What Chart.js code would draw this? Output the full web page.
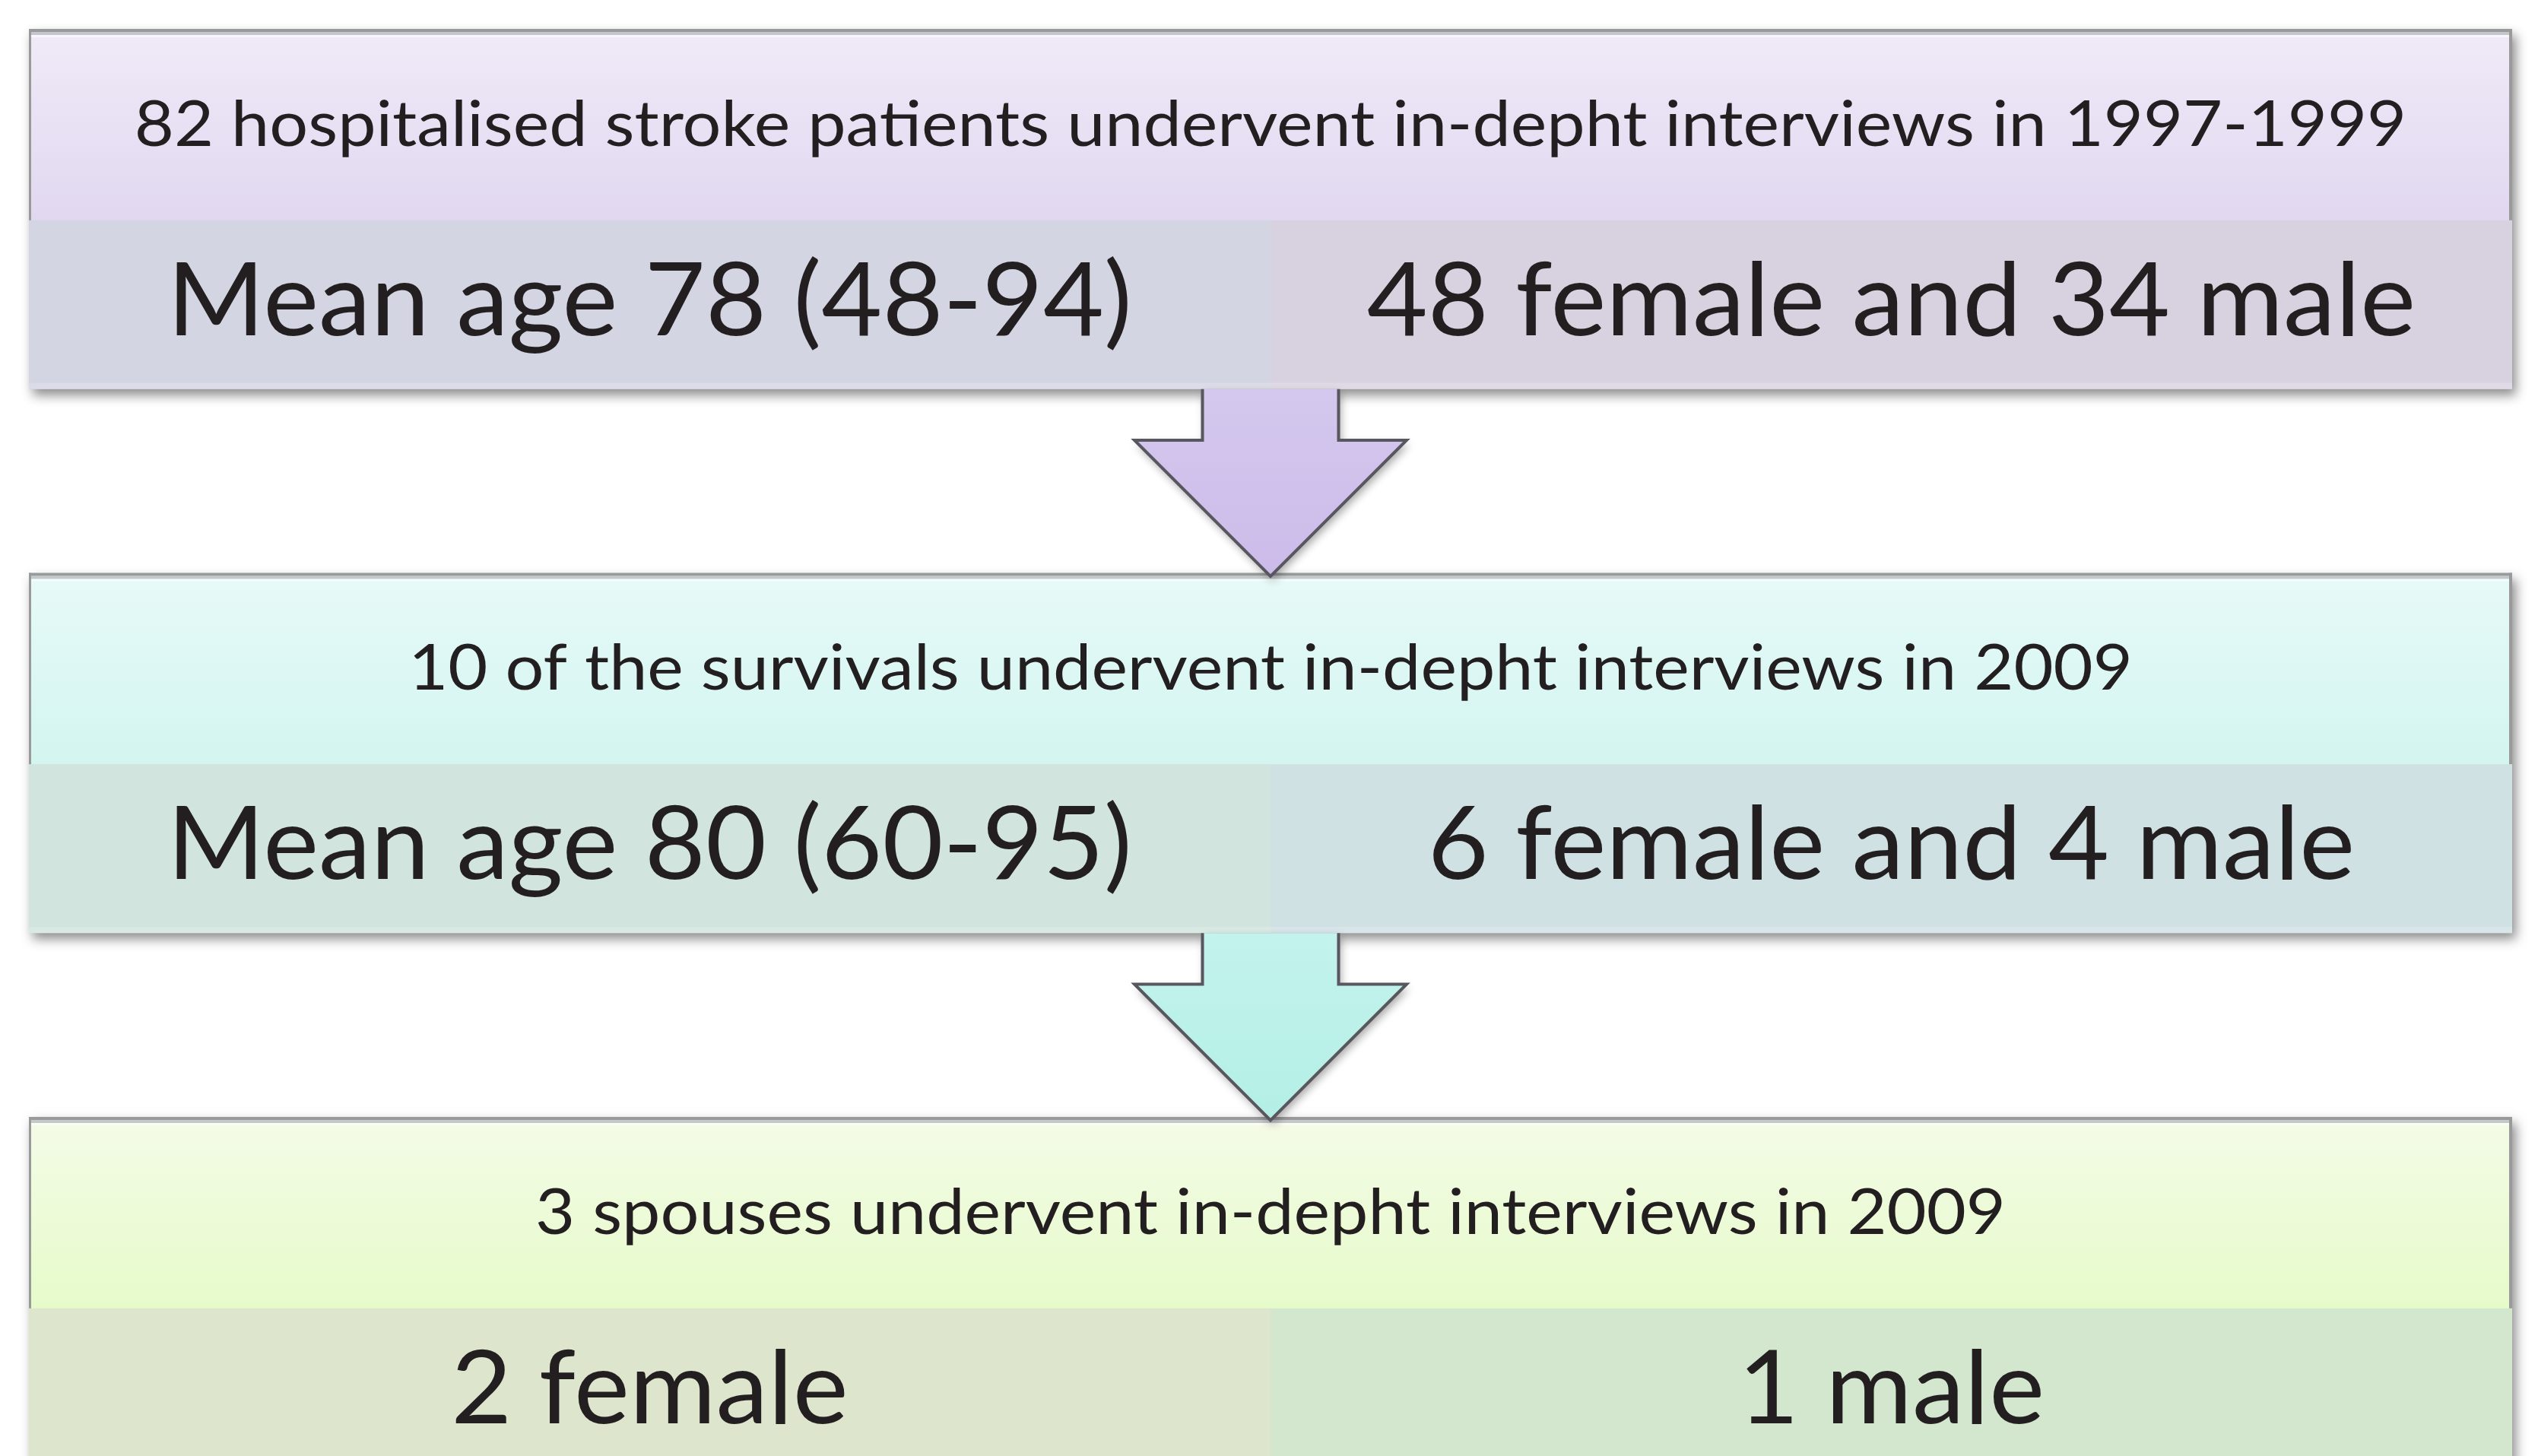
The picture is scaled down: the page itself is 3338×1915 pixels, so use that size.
<!DOCTYPE html>
<html>
<head>
<meta charset="utf-8">
<title>Stroke patients interview flow</title>
<script src="https://cdn.jsdelivr.net/npm/chart.js@4.4.0/dist/chart.umd.min.js"></script>
<style>
  html, body { margin: 0; padding: 0; background: #ffffff; }
  #wrap { width: 3338px; height: 1915px; }
</style>
</head>
<body>
<div id="wrap"><canvas id="flow"></canvas></div>
<script>
// stages of the study, top to bottom
var stages = [0, 1, 2];
var headerTexts = [
    "82 hospitalised stroke patients undervent in-depht interviews in 1997-1999",
    "10 of the survivals undervent in-depht interviews in 2009",
    "3 spouses undervent in-depht interviews in 2009"
];
var leftTexts = ["Mean age 78 (48-94)", "Mean age 80 (60-95)", "2 female"];
var rightTexts = ["48 female and 34 male", "6 female and 4 male", "1 male"];

// colours per stage
var headTop = ["#f0eaf8", "#e7faf8", "#f4fbe7"];
var headBottom = ["#e1d8f0", "#d3f5f0", "#e6fbca"];
var leftFill = ["#d3d5e2", "#d1e4de", "#dde6cd"];
var rightFill = ["#d8d2e0", "#d0e1e4", "#d3e7cf"];
var arrowTop = ["#d4c8ee", "#c3f3ec"];
var arrowBottom = ["#ccbbe9", "#b3efe5"];

// layout in axis units (one y unit = one stage pitch, one x unit = half a box)
var HEADER_H = 0.352;
var BOX_H = 0.662;
var HEAD_BASE = 0.215;
var CELL_BASE = 0.563;
var SHAFT_W = 0.0548;
var HEAD_W = 0.1096;
var NECK_Y = 0.756;
var TIP_Y = 1.006;
var HEAD_TEXT_W = 1.830;
var CELL_TEXT_W = 0.777;

var FONT = "Lato, 'Noto Sans', sans-serif";

function fitScale(ctx, text, font, target) {
    ctx.font = font;
    return target / ctx.measureText(text).width;
}

function drawText(ctx, text, x, y, font, sx) {
    ctx.save();
    ctx.font = font;
    ctx.fillStyle = "#231f20";
    ctx.textAlign = "center";
    ctx.textBaseline = "alphabetic";
    ctx.translate(x, y);
    ctx.scale(sx, 1);
    ctx.fillText(text, 0, 0);
    ctx.restore();
}

var flowPlugin = {
    id: "flow",
    beforeDatasetsDraw: function (chart) {
        var ctx = chart.ctx;
        var xs = chart.scales.x, ys = chart.scales.y;
        var left = xs.getPixelForValue(0);
        var mid = xs.getPixelForValue(1);
        var right = xs.getPixelForValue(2);
        var unitX = xs.getPixelForValue(1) - xs.getPixelForValue(0);

        var headFont = "84px " + FONT;
        var cellFont = "134px " + FONT;
        var headSx = fitScale(ctx, headerTexts[0], headFont, HEAD_TEXT_W * unitX);
        var cellSx = fitScale(ctx, leftTexts[0], cellFont, CELL_TEXT_W * unitX);

        stages.forEach(function (i) {
            var top = ys.getPixelForValue(i);
            var split = ys.getPixelForValue(i + HEADER_H);
            var bot = ys.getPixelForValue(i + BOX_H);

            // shadow
            ctx.save();
            ctx.shadowColor = "rgba(0,0,0,0.45)";
            ctx.shadowBlur = 14;
            ctx.shadowOffsetX = 5;
            ctx.shadowOffsetY = 8;
            ctx.fillStyle = leftFill[i];
            ctx.fillRect(left, top, right - left, bot - top);
            ctx.restore();

            // header
            var g = ctx.createLinearGradient(0, top, 0, split);
            g.addColorStop(0, headTop[i]);
            g.addColorStop(1, headBottom[i]);
            ctx.fillStyle = g;
            ctx.fillRect(left, top, right - left, split - top);

            // header border
            ctx.fillStyle = "#9a9a9a";
            ctx.fillRect(left, top, right - left, 4);
            ctx.fillRect(left, top, 3, split - top);
            ctx.fillRect(right - 4, top, 4, split - top);
            ctx.fillStyle = "rgba(190,195,200,0.9)";
            ctx.fillRect(left + 3, top + 4, right - left - 7, 4);
            ctx.fillStyle = "rgba(255,255,255,0.6)";
            ctx.fillRect(left + 3, top + 8, right - left - 7, 3);

            // lower cells
            ctx.fillStyle = leftFill[i];
            ctx.fillRect(left, split, mid - left, bot - split);
            ctx.fillStyle = rightFill[i];
            ctx.fillRect(mid, split, right - mid, bot - split);
            ctx.fillStyle = "rgba(255,255,255,0.18)";
            ctx.fillRect(left, bot - 8, right - left, 8);

            drawText(ctx, headerTexts[i], (left + right) / 2, ys.getPixelForValue(i + HEAD_BASE), headFont, headSx);
            drawText(ctx, leftTexts[i], (left + mid) / 2, ys.getPixelForValue(i + CELL_BASE), cellFont, cellSx);
            drawText(ctx, rightTexts[i], (mid + right) / 2, ys.getPixelForValue(i + CELL_BASE), cellFont, cellSx);
        });

        // arrows between stages
        stages.slice(0, -1).forEach(function (i) {
            var bot = ys.getPixelForValue(i + BOX_H);
            var neck = ys.getPixelForValue(i + NECK_Y);
            var tip = ys.getPixelForValue(i + TIP_Y);
            var sl = xs.getPixelForValue(1 - SHAFT_W), sr = xs.getPixelForValue(1 + SHAFT_W);
            var hl = xs.getPixelForValue(1 - HEAD_W), hr = xs.getPixelForValue(1 + HEAD_W);

            ctx.save();
            ctx.beginPath();
            ctx.moveTo(sl, bot);
            ctx.lineTo(sl, neck);
            ctx.lineTo(hl, neck);
            ctx.lineTo(mid, tip);
            ctx.lineTo(hr, neck);
            ctx.lineTo(sr, neck);
            ctx.lineTo(sr, bot);
            ctx.closePath();
            var g = ctx.createLinearGradient(0, bot, 0, tip);
            g.addColorStop(0, arrowTop[i]);
            g.addColorStop(1, arrowBottom[i]);
            ctx.shadowColor = "rgba(0,0,0,0.35)";
            ctx.shadowBlur = 12;
            ctx.shadowOffsetX = 3;
            ctx.shadowOffsetY = 6;
            ctx.fillStyle = g;
            ctx.fill();
            ctx.restore();

            ctx.save();
            ctx.beginPath();
            ctx.moveTo(sl, bot);
            ctx.lineTo(sl, neck);
            ctx.lineTo(hl, neck);
            ctx.lineTo(mid, tip);
            ctx.lineTo(hr, neck);
            ctx.lineTo(sr, neck);
            ctx.lineTo(sr, bot);
            ctx.strokeStyle = "#58565f";
            ctx.lineWidth = 4;
            ctx.lineJoin = "miter";
            ctx.stroke();
            ctx.restore();
        });
    }
};

new Chart(document.getElementById("flow"), {
    type: "scatter",
    data: {
        datasets: [{
            label: "stages",
            data: stages.map(function (s) { return { x: 1, y: s }; }),
            pointRadius: 0
        }]
    },
    options: {
        responsive: true,
        maintainAspectRatio: false,
        animation: false,
        layout: { padding: 0 },
        plugins: { legend: { display: false }, tooltip: { enabled: false } },
        scales: {
            x: { type: "linear", display: false, min: -0.02327, max: 2.02082 },
            y: { type: "linear", display: false, reverse: true, min: -0.0531, max: 2.6233 }
        }
    },
    plugins: [flowPlugin]
});
</script>
</body>
</html>
